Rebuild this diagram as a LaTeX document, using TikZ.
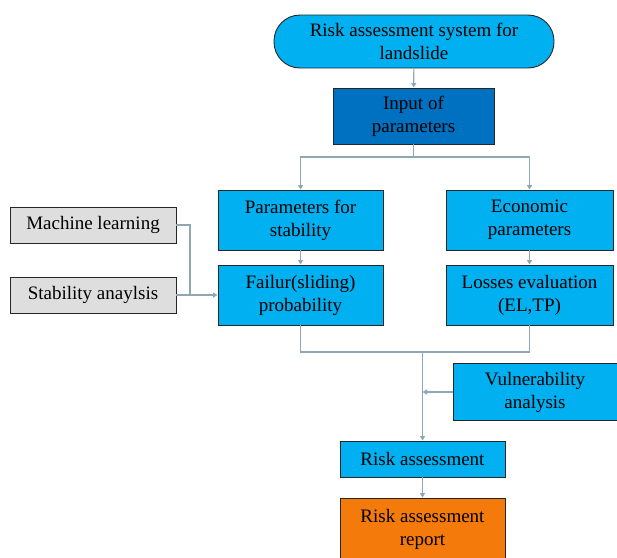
\documentclass[tikz,border=0pt]{standalone}
\usepackage{fontspec}
\setmainfont{Liberation Serif}
\usetikzlibrary{arrows.meta}

\definecolor{skyblue}{HTML}{00B0F0}
\definecolor{deepblue}{HTML}{0070C0}
\definecolor{lightgrey}{HTML}{DEDEDE}
\definecolor{reportorange}{HTML}{F47A0C}
\definecolor{linkgrey}{HTML}{8FA7B2}

\tikzset{
	box/.style={draw=black!85, line width=0.9pt, inner sep=0pt, align=center,
		font=\fontsize{19}{23}\selectfont},
	lightbox/.style={box, fill=skyblue},
	darkbox/.style={box, fill=deepblue},
	greybox/.style={box, fill=lightgrey},
	orangebox/.style={box, fill=reportorange},
	terminal/.style={lightbox, rounded corners=26pt},
	link/.style={draw=linkgrey, line width=1.1pt, -{Triangle[width=5pt,length=4.5pt]}},
	plainlink/.style={draw=linkgrey, line width=1.1pt},
}

\begin{document}
\begin{tikzpicture}[x=1pt,y=-1pt]
			\useasboundingbox (0,0) rectangle (617,557);
			% 箱の配置
			\node[terminal, minimum width=280pt, minimum height=53pt] (sys) at (414,41.5) {Risk assessment system for\\landslide};
			\node[darkbox, minimum width=161pt, minimum height=56pt] (inp) at (413.5,116) {Input of\\parameters};
			\node[lightbox, minimum width=165pt, minimum height=60pt] (pstab) at (300.5,220) {Parameters for\\stability};
			\node[lightbox, minimum width=167pt, minimum height=60pt] (econ) at (529.5,220) {Economic\\parameters};
			\node[lightbox, minimum width=165pt, minimum height=60pt] (fail) at (300.5,295) {Failur(sliding)\\probability};
			\node[lightbox, minimum width=167pt, minimum height=60pt] (loss) at (529.5,295) {Losses evaluation\\(EL,TP)};
			\node[greybox, minimum width=166pt, minimum height=36pt] (ml) at (93,225) {Machine learning};
			\node[greybox, minimum width=166pt, minimum height=36pt] (stab) at (93,295) {Stability anaylsis};
			\node[lightbox, minimum width=164pt, minimum height=57pt] (vul) at (535,392) {Vulnerability\\analysis};
			\node[lightbox, minimum width=165pt, minimum height=36pt] (risk) at (422.5,459) {Risk assessment};
			\node[orangebox, minimum width=165pt, minimum height=62pt] (rep) at (422.5,529) {Risk assessment\\report};
			% 分岐点
			\coordinate (split) at (413.5,157);
			\coordinate (joint) at (190,295);
			\coordinate (merge) at (422.5,352);
			% 線の描画
			\draw[link] (sys) -- (inp);
			\draw[plainlink] (inp) -- (split);
			\draw[link] (split) -| (pstab);
			\draw[link] (split) -| (econ);
			\draw[link] (pstab) -- (fail);
			\draw[link] (econ) -- (loss);
			\draw[plainlink] (ml) -| (joint);
			\draw[link] (stab) -- (fail);
			\draw[plainlink] (fail) |- (merge) -| (loss);
			\draw[link] (merge) -- (risk);
			\draw[link] (vul) -- (vul -| merge);
			\draw[link] (risk) -- (rep);
		\end{tikzpicture}
\end{document}
